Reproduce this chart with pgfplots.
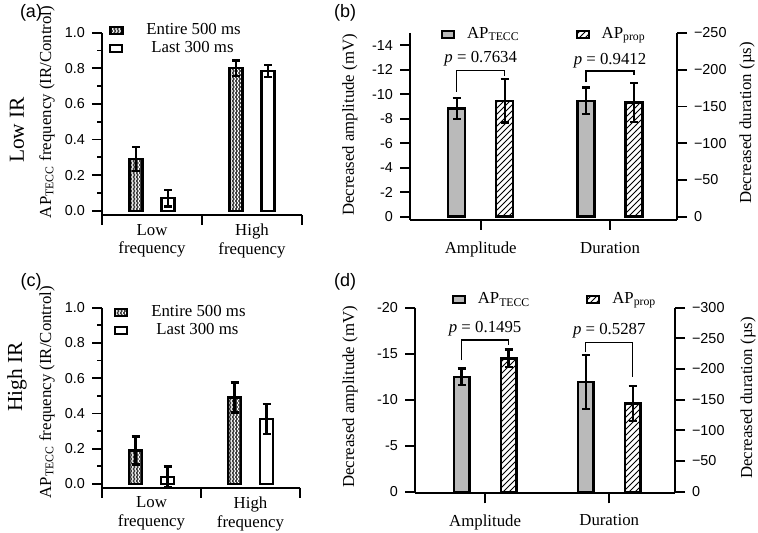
\documentclass[border=0pt]{standalone}
\usepackage{fontspec}
\setmainfont{Liberation Serif}
\setsansfont{Liberation Sans}
\usepackage{pgfplots}
\pgfplotsset{compat=1.18}
\usetikzlibrary{patterns}

% dark bars with white wavy lines
\pgfdeclarepatternformonly{zigzag}{\pgfqpoint{-0.5pt}{-0.5pt}}{\pgfqpoint{2.1pt}{2.5pt}}{\pgfqpoint{1.6pt}{2pt}}{%
  \pgfsetlinewidth{0.45pt}%
  \pgfpathmoveto{\pgfqpoint{0.2pt}{0pt}}%
  \pgfpathlineto{\pgfqpoint{1.0pt}{1pt}}%
  \pgfpathlineto{\pgfqpoint{0.2pt}{2pt}}%
  \pgfusepath{stroke}}

\newcommand\lab{\fontsize{8.4}{9.4}\selectfont}
\newcommand\tck{\sffamily\fontsize{7.2}{8}\selectfont}

\pgfplotsset{
  panel/.style={scale only axis, anchor=south west, clip=false,
    axis line style={line width=0.9pt},
    tick style={line width=0.9pt, black},
    tick align=outside, major tick length=5pt, minor tick length=2.5pt,
    tick label style={font=\tck}, label style={font=\lab},
    legend style={draw=none, fill=none, font=\lab, inner sep=0pt,
      nodes={inner sep=1pt}, /tikz/every odd column/.append style={column sep=5pt}},
    legend cell align=left,
    error bars/y dir=both, error bars/y explicit,
    error bars/error bar style={line width=1.2pt, black},
    error bars/error mark options={rotate=90, line width=1.2pt, mark size=2pt, black}},
  bx/.style={legend image code/.code={\draw[##1, line width=1pt] (0pt,-1.75pt) rectangle (6pt,1.75pt);}},
  zz/.style={draw=black, line width=1.2pt, preaction={fill=black!78}, pattern=zigzag, pattern color=white, bx},
  wt/.style={draw=black, line width=1.2pt, fill=white, bx},
  gr/.style={draw=black, line width=1.2pt, fill=black!27, bx},
  ht/.style={draw=black, line width=1.2pt, pattern=north east lines, bx},
}

\begin{document}
\begin{tikzpicture}
\path[use as bounding box] (0,0) rectangle (379pt,266.5pt);

% ---------- (a) Low IR ----------
\begin{axis}[panel, at={(51pt,159pt)}, width=100pt, height=91.15pt,
    ybar=9.5pt, bar width=6.5pt,
    xmin=-0.5, xmax=1.5, ymin=-0.024, ymax=1,
    axis x line*=bottom, axis y line*=left,
    ytick={0,0.2,0.4,0.6,0.8,1}, yticklabels={0.0,0.2,0.4,0.6,0.8,1.0},
    minor ytick={0.1,0.3,0.5,0.7,0.9},
    xtick={0,1}, xticklabels={Low\\frequency,High\\frequency},
    xtick style={draw=none},
    x tick label style={font=\lab, align=center, yshift=4pt},
    ylabel={AP\textsubscript{TECC} frequency (IR/Control)},
    ylabel style={at={(axis description cs:-0.275,0.565)}, anchor=center},
    legend style={at={(axis description cs:0.035,1.063)}, anchor=north west}]
  \addplot[zz] coordinates {(0,0.29) +- (0,0.067) (1,0.80) +- (0,0.043)};
  \addplot[wt] coordinates {(0,0.07) +- (0,0.046) (1,0.785) +- (0,0.033)};
  \legend{\hspace*{5.5pt}Entire 500 ms, \hspace*{8pt}Last 300 ms}
  \draw[line width=0.9pt] (axis cs:-0.5,-0.024) -- ++(0pt,-5pt);
  \draw[line width=0.9pt] (axis cs:0.5,-0.024) -- ++(0pt,-5pt);
  \draw[line width=0.9pt] (axis cs:1.5,-0.024) -- ++(0pt,-5pt);
\end{axis}

% ---------- (c) High IR ----------
\begin{axis}[panel, at={(51pt,22.65pt)}, width=99pt, height=90pt,
    ybar=9.5pt, bar width=6.5pt,
    xmin=-0.5, xmax=1.5, ymin=-0.021, ymax=1,
    axis x line*=bottom, axis y line*=left,
    ytick={0,0.2,0.4,0.6,0.8,1}, yticklabels={0.0,0.2,0.4,0.6,0.8,1.0},
    minor ytick={0.1,0.3,0.5,0.7,0.9},
    xtick={0,1}, xticklabels={Low\\frequency,High\\frequency},
    xtick style={draw=none},
    x tick label style={font=\lab, align=center, yshift=4pt},
    ylabel={AP\textsubscript{TECC} frequency (IR/Control)},
    ylabel style={at={(axis description cs:-0.278,0.53)}, anchor=center},
    legend style={at={(axis description cs:0.06,1.025)}, anchor=north west}]
  \addplot[zz] coordinates {(0,0.19) +- (0,0.08) (1,0.49) +- (0,0.085)};
  \addplot[wt] coordinates {(0,0.04) +- (0,0.06) (1,0.37) +- (0,0.085)};
  \legend{\hspace*{5.5pt}Entire 500 ms, \hspace*{8pt}Last 300 ms}
  \draw[line width=0.9pt] (axis cs:-0.5,-0.021) -- ++(0pt,-5pt);
  \draw[line width=0.9pt] (axis cs:0.5,-0.021) -- ++(0pt,-5pt);
  \draw[line width=0.9pt] (axis cs:1.5,-0.021) -- ++(0pt,-5pt);
\end{axis}

% ---------- (b) amplitude (left axis) ----------
\begin{axis}[panel, at={(205pt,156.5pt)}, width=133.5pt, height=93.5pt,
    ybar=15.5pt, bar width=8.5pt,
    y dir=reverse, xmin=-0.547, xmax=1.518, ymin=-15, ymax=0.27,
    axis x line*=bottom, axis y line*=left,
    ytick={-14,-12,-10,-8,-6,-4,-2,0}, yticklabels={-14,-12,-10,-8,-6,-4,-2,0},
    xtick={0,1}, xticklabels={Amplitude,Duration},
    x tick label style={font=\lab, yshift=-2.5pt},
    ylabel={Decreased amplitude (mV)},
    ylabel style={at={(axis description cs:-0.225,0.508)}, anchor=center},
    legend columns=2,
    legend style={at={(axis description cs:0.115,1.042)}, anchor=north west,
      /tikz/every even column/.append style={column sep=27pt}}]
  \addplot[gr] coordinates {(0,-8.83) +- (0,0.85)};
  \addplot[ht] coordinates {(0,-9.46) +- (0,1.77)};
  \legend{AP\textsubscript{TECC}, AP\textsubscript{prop}}
  \draw[line width=0.7pt] ([xshift=-12pt]axis cs:0,-10.2) -- ([xshift=-12pt]axis cs:0,-11.96)
    -- ([xshift=12pt]axis cs:0,-11.96) -- ([xshift=12pt]axis cs:0,-11.5);
  \node[font=\lab, anchor=base] at (axis cs:0,-12.6) {\textit{p} = 0.7634};
\end{axis}

% ---------- (b) duration (right axis) ----------
\begin{axis}[panel, at={(205pt,156.5pt)}, width=133.5pt, height=93.5pt,
    ybar=15.5pt, bar width=8.5pt,
    y dir=reverse, xmin=-0.547, xmax=1.518, ymin=-250, ymax=4.5,
    axis x line=none, axis y line*=right,
    ytick={-250,-200,-150,-100,-50,0}, yticklabels={−250,−200,−150,−100,−50,0},
    ylabel={Decreased duration (µs)},
    ylabel style={at={(axis description cs:1.262,0.519)}, anchor=center}]
  \addplot[gr] coordinates {(1,-157.6) +- (0,18)};
  \addplot[ht] coordinates {(1,-155.3) +- (0,26.5)};
  \draw[line width=0.7pt] ([xshift=-12pt]axis cs:1,-183) -- ([xshift=-12pt]axis cs:1,-198)
    -- ([xshift=12pt]axis cs:1,-198) -- ([xshift=12pt]axis cs:1,-192.5);
  \node[font=\lab, anchor=base] at (axis cs:1,-207.6) {\textit{p} = 0.9412};
\end{axis}

% ---------- (d) amplitude (left axis) ----------
\begin{axis}[panel, at={(207.5pt,19.85pt)}, width=130pt, height=92.8pt,
    ybar=15.7pt, bar width=7.8pt,
    y dir=reverse, xmin=-0.565, xmax=1.53, ymin=-20, ymax=0.17,
    axis x line*=bottom, axis y line*=left,
    ytick={-20,-15,-10,-5,0}, yticklabels={-20,-15,-10,-5,0},
    xtick={0,1}, xticklabels={Amplitude,Duration},
    x tick label style={font=\lab, yshift=-2pt},
    ylabel={Decreased amplitude (mV)},
    ylabel style={at={(axis description cs:-0.25,0.519)}, anchor=center},
    legend columns=2,
    legend style={at={(axis description cs:0.14,1.094)}, anchor=north west,
      /tikz/every even column/.append style={column sep=27pt}}]
  \addplot[gr] coordinates {(0,-12.5) +- (0,0.9)};
  \addplot[ht] coordinates {(0,-14.49) +- (0,0.95)};
  \legend{AP\textsubscript{TECC}, AP\textsubscript{prop}}
  \draw[line width=0.7pt] ([xshift=-11.75pt]axis cs:0,-14.3) -- ([xshift=-11.75pt]axis cs:0,-16.5)
    -- ([xshift=11.75pt]axis cs:0,-16.5) -- ([xshift=11.75pt]axis cs:0,-15.9);
  \node[font=\lab, anchor=base] at (axis cs:0,-17.3) {\textit{p} = 0.1495};
\end{axis}

% ---------- (d) duration (right axis) ----------
\begin{axis}[panel, at={(207.5pt,19.85pt)}, width=130pt, height=92.8pt,
    ybar=15.7pt, bar width=7.8pt,
    y dir=reverse, xmin=-0.565, xmax=1.53, ymin=-300, ymax=2.6,
    axis x line=none, axis y line*=right,
    ytick={-300,-250,-200,-150,-100,-50,0}, yticklabels={−300,−250,−200,−150,−100,−50,0},
    ylabel={Decreased duration (µs)},
    ylabel style={at={(axis description cs:1.281,0.514)}, anchor=center}]
  \addplot[gr] coordinates {(1,-179.3) +- (0,44)};
  \addplot[ht] coordinates {(1,-144) +- (0,28.5)};
  \draw[line width=0.7pt] ([xshift=-11.75pt]axis cs:1,-228) -- ([xshift=-11.75pt]axis cs:1,-243)
    -- ([xshift=11.75pt]axis cs:1,-243) -- ([xshift=11.75pt]axis cs:1,-187.5);
  \node[font=\lab, anchor=base] at (axis cs:1,-257) {\textit{p} = 0.5287};
\end{axis}

% row titles and panel letters
\node[rotate=90, font=\fontsize{10.7}{12}\selectfont] at (8.5pt,201.5pt) {Low IR};
\node[rotate=90, font=\fontsize{10.7}{12}\selectfont] at (8.5pt,78pt) {High IR};
\node[font=\sffamily\fontsize{9}{10}\selectfont] at (15.5pt,260pt) {(a)};
\node[font=\sffamily\fontsize{9}{10}\selectfont] at (172.5pt,260pt) {(b)};
\node[font=\sffamily\fontsize{9}{10}\selectfont] at (15.5pt,125.5pt) {(c)};
\node[font=\sffamily\fontsize{9}{10}\selectfont] at (172.5pt,125.5pt) {(d)};
\end{tikzpicture}
\end{document}
